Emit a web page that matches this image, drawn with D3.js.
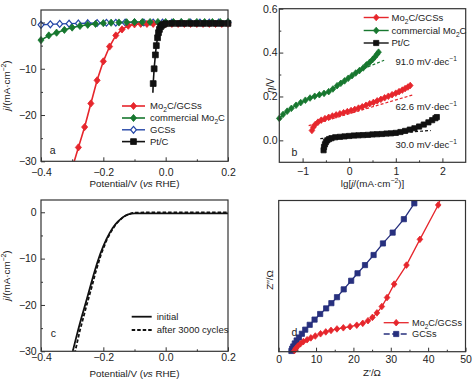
<!DOCTYPE html>
<html><head><meta charset="utf-8">
<script src="https://cdn.jsdelivr.net/npm/d3@7"></script>
<style>body{margin:0;background:#fff}svg{display:block}</style>
</head><body><script>
// ---------- DATA ----------
// Panel a: polarization curves, [potential V vs RHE, j mA/cm2]
const aMo2CGCSs = [[-0.30,-31.5],[-0.28,-27.0],[-0.26,-22.6],[-0.24,-17.5],[-0.22,-12.5],[-0.20,-8.4],[-0.18,-5.2],[-0.16,-2.8],[-0.14,-1.5],[-0.12,-0.7],[-0.10,-0.4],[-0.08,-0.3],[-0.06,-0.3],[-0.04,-0.3],[-0.02,-0.3],[0.00,-0.3],[0.02,-0.3],[0.04,-0.3],[0.06,-0.3],[0.08,-0.3],[0.10,-0.3],[0.12,-0.3],[0.14,-0.3],[0.16,-0.3],[0.18,-0.3],[0.20,-0.3]];
const aCommMo2C = [[-0.400,-3.8],[-0.375,-2.8],[-0.350,-2.2],[-0.325,-1.6],[-0.300,-1.1],[-0.275,-0.75],[-0.250,-0.5],[-0.225,-0.3],[-0.200,-0.15],[-0.175,-0.05],[-0.150,0.0],[-0.125,0.05],[-0.100,0.1],[-0.075,0.1],[-0.050,0.1],[-0.025,0.1],[0.000,0.1],[0.025,0.1],[0.050,0.1],[0.075,0.1],[0.100,0.1],[0.125,0.1],[0.150,0.1],[0.175,0.1],[0.200,0.1]];
const aGCSs = [[-0.40,-0.5],[-0.37,-0.4],[-0.34,-0.3],[-0.31,-0.25],[-0.28,-0.2],[-0.25,-0.15],[-0.22,-0.1],[-0.19,-0.05],[-0.16,-0.05],[-0.13,0],[-0.10,0],[-0.07,0],[-0.04,0],[-0.01,0],[0.02,0],[0.05,0],[0.08,0],[0.11,0],[0.14,0],[0.17,0],[0.20,0]];
const aPtC = [[-0.041,-15.2],[-0.040,-13.2],[-0.037,-10.0],[-0.033,-7.0],[-0.030,-5.0],[-0.026,-3.3],[-0.023,-2.2],[-0.020,-1.5],[-0.016,-0.9],[-0.012,-0.6],[-0.007,-0.4],[0.000,-0.25],[0.02,-0.2],[0.04,-0.2],[0.06,-0.2],[0.08,-0.2],[0.10,-0.2],[0.12,-0.2],[0.14,-0.2],[0.16,-0.2],[0.18,-0.2],[0.20,-0.2]];
const aXTicks = [-0.4,-0.2,0.0,0.2], aXMinor = [-0.3,-0.1,0.1];
const aYTicks = [0,-10,-20,-30], aYMinor = [-5,-15,-25];

// Panel b: Tafel plots, [lg j, eta V]
const bMo2CGCSs = [[-0.80,0.045],[-0.77,0.060],[-0.73,0.072],[-0.67,0.083],[-0.60,0.092],[-0.52,0.099],[-0.44,0.105],[-0.36,0.111],[-0.28,0.116],[-0.20,0.121],[-0.12,0.126],[-0.04,0.131],[0.04,0.136],[0.12,0.141],[0.20,0.147],[0.28,0.153],[0.36,0.160],[0.44,0.167],[0.52,0.173],[0.60,0.180],[0.68,0.187],[0.76,0.194],[0.84,0.201],[0.92,0.208],[1.00,0.215],[1.07,0.222],[1.14,0.229],[1.20,0.236],[1.26,0.243],[1.31,0.250]];
const bCommMo2C = [[-1.50,0.100],[-1.42,0.118],[-1.33,0.133],[-1.24,0.146],[-1.14,0.160],[-1.04,0.172],[-0.94,0.183],[-0.84,0.193],[-0.74,0.201],[-0.64,0.208],[-0.54,0.214],[-0.44,0.222],[-0.35,0.234],[-0.26,0.249],[-0.18,0.260],[-0.10,0.271],[-0.02,0.283],[0.06,0.295],[0.14,0.307],[0.22,0.318],[0.30,0.330],[0.37,0.344],[0.44,0.356],[0.50,0.368],[0.55,0.380],[0.60,0.393],[0.63,0.402]];
const bPtC = [[-0.55,-0.045],[-0.54,-0.030],[-0.52,-0.018],[-0.50,-0.008],[-0.47,0.000],[-0.43,0.006],[-0.38,0.010],[-0.30,0.014],[-0.20,0.016],[-0.10,0.018],[0.00,0.020],[0.10,0.022],[0.20,0.023],[0.30,0.024],[0.40,0.025],[0.50,0.027],[0.60,0.028],[0.70,0.029],[0.80,0.031],[0.90,0.032],[1.00,0.034],[1.10,0.038],[1.20,0.043],[1.30,0.049],[1.40,0.055],[1.50,0.063],[1.60,0.072],[1.70,0.082],[1.78,0.092],[1.85,0.101],[1.88,0.106]];
const bFitMo2CGCSs = [[-0.87,0.067],[1.38,0.208]];
const bFitCommMo2C = [[0.20,0.318],[0.75,0.365]];
const bFitPtC = [[-0.62,0.008],[1.75,0.045]];
const bSlopes = ["91.0","62.6","30.0"];
const bXTicks = [-1,0,1,2], bXMinor = [-0.5,0.5,1.5];
const bYTicks = [0.0,0.2,0.4,0.6], bYMinor = [0.1,0.3,0.5];

// Panel c: stability, [potential, j]
const cInitial = [[-0.300,-30.5],[-0.290,-27.8],[-0.280,-25.2],[-0.270,-22.7],[-0.260,-20.4],[-0.250,-18.0],[-0.240,-15.6],[-0.230,-13.2],[-0.220,-11.0],[-0.210,-9.0],[-0.200,-7.3],[-0.190,-5.8],[-0.180,-4.5],[-0.170,-3.4],[-0.160,-2.5],[-0.150,-1.8],[-0.140,-1.2],[-0.130,-0.75],[-0.120,-0.45],[-0.110,-0.3],[-0.100,-0.25],[-0.05,-0.25],[0.0,-0.25],[0.1,-0.25],[0.2,-0.25]];
const cAfter = [[-0.292,-30.5],[-0.283,-27.8],[-0.274,-25.2],[-0.264,-22.7],[-0.255,-20.4],[-0.245,-18.0],[-0.235,-15.6],[-0.226,-13.2],[-0.216,-11.0],[-0.207,-9.0],[-0.197,-7.3],[-0.188,-5.8],[-0.178,-4.5],[-0.168,-3.4],[-0.159,-2.5],[-0.149,-1.8],[-0.139,-1.2],[-0.129,-0.75],[-0.119,-0.4],[-0.109,-0.2],[-0.100,-0.1],[-0.05,0.0],[0.0,0.0],[0.1,0.0],[0.2,0.0]];

// Panel d: Nyquist, [Z' ohm, -Z'' ohm]
const dMo2CGCSs = [[4.2,0.3],[4.6,0.9],[5.1,1.5],[5.8,2.1],[6.6,2.7],[7.6,3.2],[8.6,3.7],[9.8,4.2],[11.2,4.8],[12.6,5.3],[14.0,5.7],[15.6,6.1],[17.3,6.4],[19.1,6.7],[20.9,7.1],[22.5,7.6],[23.9,8.3],[25.1,9.2],[26.3,10.4],[27.6,12.1],[29.0,14.5],[30.9,18.1],[34.2,23.2],[37.8,30.1],[42.7,39.3],[43.4,41.2]];
const dGCSs = [[3.4,0.2],[3.6,0.8],[3.9,1.4],[4.3,2.2],[4.8,3.0],[5.4,3.8],[6.2,4.8],[7.1,5.9],[8.3,7.2],[9.6,8.6],[11.1,10.1],[12.7,11.6],[14.1,13.0],[15.6,14.6],[17.4,16.7],[19.4,19.0],[21.1,21.0],[23.1,23.2],[25.4,25.9],[27.9,29.0],[30.5,31.9],[33.5,35.5],[36.3,39.75]];
const dXTicks = [0,10,20,30,40,50], dXMinor = [5,15,25,35,45];

// ---------- DRAWING ----------
const FONT = '"Liberation Sans", Arial, Helvetica, sans-serif';
const RED = "#e6262c", GREEN = "#17772f", BLUE = "#2446a6", NAVY = "#27307e", BLACK = "#111";
const svg = d3.select("body").append("svg").attr("width",474).attr("height",381)
  .style("font-family",FONT);
const defs = svg.append("defs");

function rich(t, parts, fs){
  let cur = 0;
  parts.forEach(([s, st]) => {
    const ts = t.append("tspan").text(s);
    let off = 0;
    if (st === "i") ts.attr("font-style","italic");
    if (st === "sub") { off = fs*0.28; ts.attr("font-size", fs*0.7); }
    if (st === "sup") { off = -fs*0.42; ts.attr("font-size", fs*0.7); }
    if (off !== cur) ts.attr("dy", off - cur);
    cur = off;
  });
  return t;
}

function makePanel(o){
  const g = svg.append("g");
  const x = d3.scaleLinear().domain(o.xd).range([o.l,o.r]);
  const y = d3.scaleLinear().domain(o.yd).range([o.b,o.t]);
  defs.append("clipPath").attr("id","clip"+o.name).append("rect")
    .attr("x",o.l).attr("y",o.t).attr("width",o.r-o.l).attr("height",o.b-o.t);
  const plot = g.append("g").attr("clip-path",`url(#clip${o.name})`);
  const marks = g.append("g");
  const axes = g.append("g");
  const style = sel => { sel.select(".domain").remove();
    sel.attr("font-family",FONT).attr("font-size",10.5);
    sel.selectAll("line").attr("stroke","#333").attr("stroke-width",1);
    sel.selectAll("text").attr("fill","#222"); };
  axes.append("g").attr("transform",`translate(0,${o.b})`)
    .call(d3.axisBottom(x).tickValues(o.xt).tickSize(-4).tickPadding(o.xpad).tickFormat(o.xf)).call(style);
  axes.append("g").attr("transform",`translate(0,${o.b})`)
    .call(d3.axisBottom(x).tickValues(o.xm).tickSize(-2).tickFormat("")).call(style);
  if (o.yt) {
    axes.append("g").attr("transform",`translate(${o.l},0)`)
      .call(d3.axisLeft(y).tickValues(o.yt).tickSize(-4).tickPadding(o.ypad).tickFormat(o.yf)).call(style);
    axes.append("g").attr("transform",`translate(${o.l},0)`)
      .call(d3.axisLeft(y).tickValues(o.ym).tickSize(-2).tickFormat("")).call(style);
  }
  axes.append("rect").attr("x",o.l).attr("y",o.t).attr("width",o.r-o.l).attr("height",o.b-o.t)
    .attr("fill","none").attr("stroke","#333").attr("stroke-width",1.2);
  return {g,x,y,plot,marks,o};
}

function markerPath(type, s){
  if (type === "diamond") return `M0,${-s}L${s*0.85},0L0,${s}L${-s*0.85},0Z`;
  if (type === "square") return `M${-s},${-s}h${2*s}v${2*s}h${-2*s}Z`;
  return "";
}

function series(p, data, st){
  const line = d3.line().x(d=>p.x(d[0])).y(d=>p.y(d[1]));
  p.plot.append("path").datum(data).attr("d",line).attr("fill","none")
    .attr("stroke",st.color).attr("stroke-width",st.lw).attr("stroke-dasharray",st.dash||null);
  if (st.marker) {
    const [x0,x1] = p.x.domain(), [y0,y1] = p.y.domain();
    const pts = data.slice(st.skip||0).filter(d=>d[0]>=x0&&d[0]<=x1&&d[1]>=y0&&d[1]<=y1);
    p.marks.selectAll(null).data(pts).enter().append("path")
      .attr("transform",d=>`translate(${p.x(d[0])},${p.y(d[1])})`)
      .attr("d",markerPath(st.marker,st.ms)).attr("fill",st.fill||st.color)
      .attr("stroke",st.color).attr("stroke-width",st.msw||0.8);
  }
}

function legend(g, items, x0, x1, xt, ys, fs){
  items.forEach((it,i)=>{
    const y = ys[i];
    g.append("line").attr("x1",x0).attr("x2",x1).attr("y1",y).attr("y2",y)
      .attr("stroke",it.st.color).attr("stroke-width",it.st.lw).attr("stroke-dasharray",it.st.ldash||it.st.dash||null);
    if (it.st.marker) g.append("path").attr("transform",`translate(${(x0+x1)/2},${y})`)
      .attr("d",markerPath(it.st.marker,it.st.ms)).attr("fill",it.st.fill||it.st.color)
      .attr("stroke",it.st.color).attr("stroke-width",it.st.msw||0.8);
    rich(g.append("text").attr("x",xt).attr("y",y).attr("dy","0.36em").attr("font-size",fs).attr("fill","#222"), it.label, fs);
  });
}

function text(g, x, y, parts, fs, opts={}){
  const t = g.append("text").attr("x",x).attr("y",y).attr("font-size",fs).attr("fill","#222")
    .attr("text-anchor",opts.anchor||"start");
  if (opts.rotate) t.attr("transform",`rotate(-90,${x},${y})`);
  return rich(t, parts, fs);
}

const fmt1 = d3.format(".1f"), fmtD = d3.format("d");
const jTitle = [["j","i"],["/(mA·cm",""],["−2","sup"],[")",""]];
const potTitle = [["Potential/V (",""],["vs","i"],[" RHE)",""]];
const mo2cgcs = [["Mo",""],["2","sub"],["C/GCSs",""]];
const commMo2c = [["commercial Mo",""],["2","sub"],["C",""]];

// ----- Panel a -----
const A = makePanel({name:"a", l:41, r:228, t:10, b:161.3, xd:[-0.4,0.2], yd:[-30,2.7],
  xt:aXTicks, xm:aXMinor, yt:aYTicks, ym:aYMinor, xf:fmt1, yf:fmtD, xpad:7, ypad:4.3});
const stA = {
  red:{color:RED, lw:1.6, marker:"diamond", ms:3.6},
  green:{color:GREEN, lw:1.6, marker:"diamond", ms:3.6},
  blue:{color:BLUE, lw:1.4, marker:"diamond", ms:3.4, fill:"#fff", msw:1.2},
  black:{color:BLACK, lw:1.6, marker:"square", ms:2.9, skip:1}
};
series(A, aGCSs, stA.blue);
series(A, aMo2CGCSs, stA.red);
series(A, aCommMo2C, stA.green);
series(A, aPtC, stA.black);
legend(A.g, [{st:stA.red,label:mo2cgcs},{st:stA.green,label:commMo2c},{st:stA.blue,label:[["GCSs",""]]},{st:stA.black,label:[["Pt/C",""]]}],
  122, 145, 150, [106,118,129.8,141.6], 9.5);
text(A.g, 52.7, 154.3, [["a",""]], 10.5, {anchor:"middle"});
text(A.g, 134.5, 186.5, potTitle, 9.8, {anchor:"middle"});
text(A.g, 10, 85.5, jTitle, 9.8, {anchor:"middle", rotate:true});

// ----- Panel b -----
const B = makePanel({name:"b", l:279.3, r:465.7, t:8.7, b:162.3, xd:[-1.5,2.5], yd:[-0.1,0.6],
  xt:bXTicks, xm:bXMinor, yt:bYTicks, ym:bYMinor, xf:fmtD, yf:fmt1, xpad:5.2, ypad:1.8});
const stB = {
  red:{color:RED, lw:1.4, marker:"diamond", ms:3.3},
  green:{color:GREEN, lw:1.4, marker:"diamond", ms:3.3},
  black:{color:BLACK, lw:1.4, marker:"square", ms:2.6}
};
series(B, bFitMo2CGCSs, {color:RED, lw:1.2, dash:"3,2"});
series(B, bFitCommMo2C, {color:GREEN, lw:1.2, dash:"3,2"});
series(B, bFitPtC, {color:BLACK, lw:1.2, dash:"3,2"});
series(B, bCommMo2C, stB.green);
series(B, bMo2CGCSs, stB.red);
series(B, bPtC, stB.black);
legend(B.g, [{st:stB.red,label:mo2cgcs},{st:stB.green,label:commMo2c},{st:stB.black,label:[["Pt/C",""]]}],
  363.7, 388.7, 391.5, [17.5,30.5,43], 9.5);
[[64.5,0],[109.5,1],[148,2]].forEach(([y,i])=>{
  text(B.g, 395.5, y, [[bSlopes[i]+" mV·dec",""],["−1","sup"]], 9.5);
});
text(B.g, 294.3, 156.3, [["b",""]], 10.5, {anchor:"middle"});
text(B.g, 372.5, 187, [["lg[",""],["j","i"],["/(mA·cm",""],["−2","sup"],[")]",""]], 9.8, {anchor:"middle"});
text(B.g, 273.5, 85.5, [["η","i"],["/V",""]], 10, {anchor:"middle", rotate:true});

// ----- Panel c -----
const C = makePanel({name:"c", l:41, r:228, t:200, b:351.3, xd:[-0.4,0.2], yd:[-30,2.65],
  xt:aXTicks, xm:aXMinor, yt:aYTicks, ym:aYMinor, xf:fmt1, yf:fmtD, xpad:2.6, ypad:4.3});
const stC = { init:{color:BLACK, lw:1.8}, after:{color:BLACK, lw:1.8, dash:"3.5,2"} };
series(C, cInitial, stC.init);
series(C, cAfter, stC.after);
legend(C.g, [{st:stC.init,label:[["initial",""]]},{st:stC.after,label:[["after 3000 cycles",""]]}],
  131.7, 151.7, 156.7, [316.7,330], 9.5);
text(C.g, 53.3, 337, [["c",""]], 10.5, {anchor:"middle"});
text(C.g, 134.5, 376.5, potTitle, 9.8, {anchor:"middle"});
text(C.g, 10, 275.5, jTitle, 9.8, {anchor:"middle", rotate:true});

// ----- Panel d -----
const D = makePanel({name:"d", l:278.7, r:465.5, t:200.5, b:351.7, xd:[0,50], yd:[0,40.5],
  xt:dXTicks, xm:dXMinor, xf:fmtD, xpad:3.6});
const stD = {
  red:{color:RED, lw:1.3, marker:"diamond", ms:3.3},
  navy:{color:NAVY, lw:1.3, marker:"square", ms:2.6, ldash:"6,2.5"}
};
series(D, dGCSs, stD.navy);
series(D, dMo2CGCSs, stD.red);
legend(D.g, [{st:stD.red,label:mo2cgcs},{st:stD.navy,label:[["GCSs",""]]}],
  383.7, 408.7, 412, [322.7,334], 9.2);
text(D.g, 294.3, 336.3, [["d",""]], 10.5, {anchor:"middle"});
text(D.g, 372, 376, [["Z′/Ω",""]], 9.8, {anchor:"middle"});
text(D.g, 272.5, 280, [["Z′′/Ω",""]], 9.8, {anchor:"middle", rotate:true});
</script></body></html>
